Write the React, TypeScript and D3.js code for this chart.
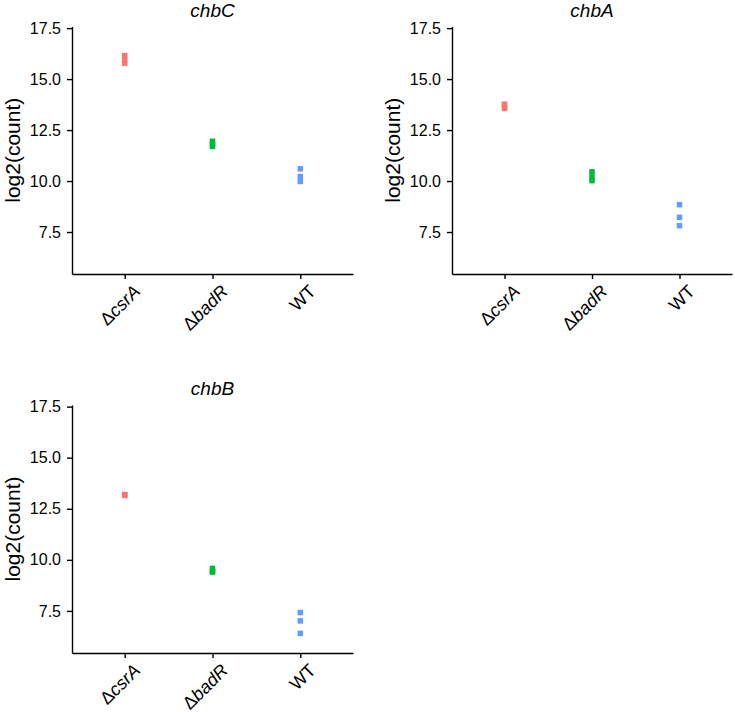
import React, { useRef, useEffect } from "react";
import * as d3 from "d3";

// genes in panel order
const genes = ["chbC", "chbA", "chbB"];
const strains = ["csrA", "badR", "WT"];
const strainColors = ["#F8766D", "#00BA38", "#619CFF"];
const yTicks = [7.5, 10.0, 12.5, 15.0, 17.5];

// log2(count), three replicates per strain
const chbC = [
  [16.15, 15.95, 15.78],
  [11.95, 11.8, 11.7],
  [10.6, 10.22, 9.98],
];
const chbA = [
  [13.77, 13.65, 13.56],
  [10.45, 10.2, 10.02],
  [8.84, 8.22, 7.81],
];
const chbB = [
  [13.2, 13.15, 13.18],
  [9.58, 9.45, 9.4],
  [7.42, 7.01, 6.4],
];
const geneData = [chbC, chbA, chbB];

// panel boxes
const panels = [
  { x0: 72, x1: 353, top: 26.5, bottom: 274 },
  { x0: 452, x1: 732, top: 26.5, bottom: 274 },
  { x0: 72, x1: 353, top: 405, bottom: 653 },
];

export default function App() {
  const svgRef = useRef(null);

  useEffect(() => {
    const svg = d3.select(svgRef.current);
    svg.selectAll("*").remove();
    const font = "'Liberation Sans', Arial, Helvetica, sans-serif";

    genes.forEach((gene, gi) => {
      const p = panels[gi];
      const g = svg.append("g");

      const x = d3.scalePoint().domain(strains).range([p.x0, p.x1]).padding(0.6);
      const y = d3.scaleLinear().domain([5.44, 17.58]).range([p.bottom, p.top]);

      // y axis
      const yAxis = d3.axisLeft(y).tickValues(yTicks).tickFormat(d3.format(".1f"))
        .tickSize(5).tickSizeOuter(0).tickPadding(6);
      const ya = g.append("g").attr("transform", `translate(${p.x0},0)`).call(yAxis);
      ya.select(".domain").attr("stroke", "#000").attr("stroke-width", 1.4);
      ya.selectAll(".tick line").attr("stroke", "#000").attr("stroke-width", 1.4);
      ya.selectAll(".tick text").attr("fill", "#000").style("font-family", font).style("font-size", "16px");

      // x axis
      const xAxis = d3.axisBottom(x).tickSize(5).tickSizeOuter(0).tickFormat(() => "");
      const xa = g.append("g").attr("transform", `translate(0,${p.bottom})`).call(xAxis);
      xa.select(".domain").attr("stroke", "#000").attr("stroke-width", 1.4);
      xa.selectAll(".tick line").attr("stroke", "#000").attr("stroke-width", 1.4);

      // rotated category labels
      strains.forEach((s) => {
        const t = g.append("text")
          .attr("transform", `translate(${x(s) + 7},${p.bottom + 9}) rotate(-45)`)
          .attr("text-anchor", "end")
          .attr("dy", "0.75em")
          .style("font-family", font)
          .style("font-size", "18px")
          .attr("fill", "#000");
        if (s === "WT") {
          t.text("WT");
        } else {
          t.append("tspan").text("\u0394");
          t.append("tspan").style("font-style", "italic").text(s);
        }
      });

      // title
      g.append("text")
        .attr("x", (p.x0 + p.x1) / 2)
        .attr("y", p.top - 10)
        .attr("text-anchor", "middle")
        .style("font-family", font)
        .style("font-size", "19px")
        .style("font-style", "italic")
        .text(gene);

      // y label
      g.append("text")
        .attr("transform", `translate(${p.x0 - 52},${(p.top + p.bottom) / 2}) rotate(-90)`)
        .attr("text-anchor", "middle")
        .style("font-family", font)
        .style("font-size", "21px")
        .text("log2(count)");

      // points
      const size = 5.5;
      geneData[gi].forEach((vals, si) => {
        g.selectAll(null)
          .data(vals)
          .join("rect")
          .attr("x", x(strains[si]) - size / 2)
          .attr("y", (d) => y(d) - size / 2)
          .attr("width", size)
          .attr("height", size)
          .attr("fill", strainColors[si]);
      });
    });
  }, []);

  return (
    <svg
      ref={svgRef}
      width={735}
      height={712}
      style={{ position: "absolute", left: 0, top: 0, background: "#fff" }}
    />
  );
}
